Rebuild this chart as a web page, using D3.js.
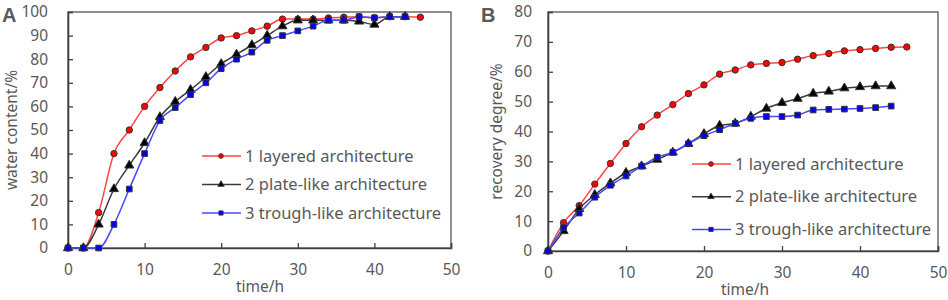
<!DOCTYPE html>
<html>
<head>
<meta charset="utf-8">
<script src="https://cdn.jsdelivr.net/npm/d3@7"></script>
<style>
  body { margin: 0; background: #fff; }
  text { font-family: "Noto Sans", "Open Sans", sans-serif; fill: #595959; }
</style>
</head>
<body>
<svg id="chart" width="948" height="300"></svg>
<script>
// ---- data ----
var seriesNames = ["1 layered architecture", "2 plate-like architecture", "3 trough-like architecture"];

// panel A: water content (%) vs time (h)
var timeA = [0, 2, 4, 6, 8, 10, 12, 14, 16, 18, 20, 22, 24, 26, 28, 30, 32, 34, 36, 38, 40, 42, 44, 46];
var layeredA = [0, 0, 15, 40, 50, 60, 68, 75, 81, 85, 89, 90, 92, 94, 97, 97, 97, 97.5, 97.8, 98, 97.6, 98, 98, 97.8];
var plateA = [0, 0, 10, 25, 35, 44.5, 55.5, 62, 67, 72.5, 78, 82, 86, 90, 94, 96.5, 96.5, 96.5, 96.5, 96, 94.7, 98, 98];
var troughA = [0, 0, 0, 10, 25, 40, 54, 59.5, 65, 70, 76, 80, 83, 88, 90, 92, 94, 96.5, 96.5, 98, 97.5, 98, 98];

// panel B: recovery degree (%) vs time (h)
var timeB = [0, 2, 4, 6, 8, 10, 12, 14, 16, 18, 20, 22, 24, 26, 28, 30, 32, 34, 36, 38, 40, 42, 44, 46];
var layeredB = [0, 9.5, 15.2, 22.4, 29.3, 36, 41.6, 45.5, 49, 52.7, 55.6, 59.2, 60.6, 62.3, 62.8, 63.1, 64.2, 65.4, 66.1, 67, 67.4, 67.8, 68.2, 68.3];
var plateB = [0, 6.7, 14.1, 18.8, 22.7, 26.2, 28.4, 30.6, 33, 35.9, 39.2, 42, 42.7, 45, 47.7, 49.6, 51, 52.7, 53.4, 54.5, 54.9, 55.2, 55.2];
var troughB = [0, 7.8, 12.7, 18, 22, 25.1, 28.4, 31.4, 33, 35.9, 38.6, 40.6, 42.7, 44.4, 45, 45, 45.5, 47.2, 47.4, 47.5, 47.7, 48, 48.5];

var xTicks = [0, 10, 20, 30, 40, 50];
var yTicksA = [0, 10, 20, 30, 40, 50, 60, 70, 80, 90, 100];
var yTicksB = [0, 10, 20, 30, 40, 50, 60, 70, 80];

// ---- styles ----
var lineColors = ["#ff4545", "#3a3a3a", "#4848ff"];
var fillColors = ["#ff0000", "#000000", "#0000ee"];
var symbols = [d3.symbolCircle, d3.symbolTriangle, d3.symbolSquare];

var svg = d3.select("#chart");

function drawPanel(p) {
  var x = d3.scaleLinear().domain([0, 50]).range([p.left, p.right]);
  var y = d3.scaleLinear().domain([0, p.yMax]).range([p.bottom, p.top]);
  var g = svg.append("g");

  // frame
  g.append("rect")
    .attr("x", p.left).attr("y", p.top)
    .attr("width", p.right - p.left).attr("height", p.bottom - p.top)
    .attr("fill", "none").attr("stroke", "#555").attr("stroke-width", 1.3);

  // axes with inside ticks
  var xa = g.append("g")
    .attr("transform", `translate(0,${p.bottom})`)
    .call(d3.axisBottom(x).tickValues(xTicks).tickSize(-5).tickPadding(16));
  var ya = g.append("g")
    .attr("transform", `translate(${p.left},0)`)
    .call(d3.axisLeft(y).tickValues(p.yTicks).tickSize(-5).tickPadding(p.yPad));
  [xa, ya].forEach(function (a) {
    a.select(".domain").attr("stroke", "#404040").attr("stroke-width", 1.6);
    a.selectAll(".tick line").attr("stroke", "#404040").attr("stroke-width", 1.3);
    a.selectAll(".tick text").style("font-size", "15.5px").attr("fill", "#595959");
  });
  xa.selectAll(".tick text").attr("dy", "0.71em");

  // titles
  g.append("text")
    .attr("x", p.xTitleX).attr("y", p.xTitleY)
    .attr("text-anchor", "middle")
    .style("font-size", "15.5px")
    .text("time/h");
  g.append("text")
    .attr("transform", `translate(${p.yTitleX},${(p.top + p.bottom) / 2}) rotate(-90)`)
    .attr("text-anchor", "middle")
    .style("font-size", "15.5px")
    .text(p.yTitle);
  g.append("text")
    .attr("x", p.labelX).attr("y", 22)
    .style("font-family", "'Liberation Sans', Arial, sans-serif")
    .style("font-weight", "bold")
    .style("font-size", "20px")
    .attr("fill", "#000")
    .text(p.label);

  var line = d3.line()
    .x(function (d) { return x(d[0]); })
    .y(function (d) { return y(d[1]); })
    .curve(d3.curveMonotoneX);

  p.series.forEach(function (vals, i) {
    var pts = vals.map(function (v, k) { return [p.time[k], v]; });
    g.append("path")
      .attr("d", line(pts))
      .attr("fill", "none")
      .attr("stroke", lineColors[i])
      .attr("stroke-width", 1.5);
    g.selectAll(null)
      .data(pts)
      .enter()
      .append("path")
      .attr("transform", function (d) { return `translate(${x(d[0])},${y(d[1])})`; })
      .attr("d", d3.symbol().type(symbols[i]).size(i === 1 ? 36 : 32))
      .attr("fill", fillColors[i])
      .attr("stroke", "#333")
      .attr("stroke-width", 1);
  });

  // legend
  seriesNames.forEach(function (name, i) {
    var ly = p.legY + i * p.legStep;
    g.append("line")
      .attr("x1", p.legX).attr("x2", p.legX + 39)
      .attr("y1", ly).attr("y2", ly)
      .attr("stroke", lineColors[i]).attr("stroke-width", 1.5);
    g.append("path")
      .attr("transform", `translate(${p.legX + 19},${ly})`)
      .attr("d", d3.symbol().type(symbols[i]).size(18))
      .attr("fill", fillColors[i])
      .attr("stroke", "#333")
      .attr("stroke-width", 0.8);
    g.append("text")
      .attr("x", p.legX + 43).attr("y", ly)
      .attr("dy", "0.35em")
      .style("font-size", "16.5px")
      .text(name);
  });
}

drawPanel({
  label: "A", labelX: 2,
  left: 68, right: 451, top: 12, bottom: 248, yMax: 100, yTicks: yTicksA, yPad: 20,
  yTitle: "water content/%", yTitleX: 17, xTitleX: 260, xTitleY: 292,
  time: timeA, series: [layeredA, plateA, troughA],
  legX: 202, legY: 156, legStep: 28.5
});

drawPanel({
  label: "B", labelX: 481,
  left: 548, right: 938, top: 12, bottom: 251, yMax: 80, yTicks: yTicksB, yPad: 16,
  yTitle: "recovery degree/%", yTitleX: 502, xTitleX: 745, xTitleY: 295,
  time: timeB, series: [layeredB, plateB, troughB],
  legX: 692, legY: 164, legStep: 32.7
});
</script>
</body>
</html>
